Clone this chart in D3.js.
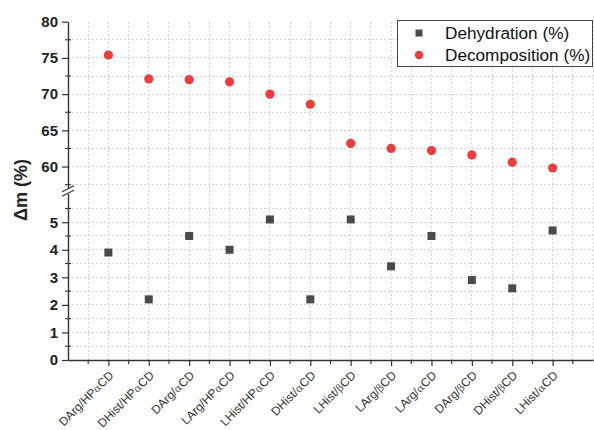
<!DOCTYPE html>
<html>
<head>
<meta charset="utf-8">
<script src="https://cdn.jsdelivr.net/npm/d3@7"></script>
<style>
  html, body { margin: 0; padding: 0; background: #fff; }
  svg { display: block; }
  text { font-family: "Liberation Sans", Arial, sans-serif; }
</style>
</head>
<body>
<svg id="chart" width="594" height="430"></svg>
<script>
// Sample names (prefix, cyclodextrin suffix; α/β drawn in a symbol face)
const samples = [
  ["DArg/HP", "α", "CD"],
  ["DHist/HP", "α", "CD"],
  ["DArg/", "α", "CD"],
  ["LArg/HP", "α", "CD"],
  ["LHist/HP", "α", "CD"],
  ["DHist/", "α", "CD"],
  ["LHist/", "β", "CD"],
  ["LArg/", "β", "CD"],
  ["LArg/", "α", "CD"],
  ["DArg/", "β", "CD"],
  ["DHist/", "β", "CD"],
  ["LHist/", "α", "CD"]
];
const dehydration = [3.9, 2.2, 4.5, 4.0, 5.1, 2.2, 5.1, 3.4, 4.5, 2.9, 2.6, 4.7];
const decomposition = [75.4, 72.1, 72.0, 71.7, 70.0, 68.6, 63.2, 62.5, 62.2, 61.6, 60.6, 59.8];

const upperMajor = [60, 65, 70, 75, 80];
const upperMinor = [57.5, 62.5, 67.5, 72.5, 77.5];
const lowerMajor = [0, 1, 2, 3, 4, 5];
const lowerMinor = [0.5, 1.5, 2.5, 3.5, 4.5, 5.5];

const svg = d3.select("#chart");

// Broken y axis: two linear segments sharing one x scale
const x = d3.scaleLinear().domain([0, 13]).range([68, 593]);
const yUp = d3.scaleLinear().domain([56.9, 80]).range([189, 21.7]);
const yLo = d3.scaleLinear().domain([0, 6.06]).range([360, 193]);

const gridColor = "#d4d4d4";
const grid = svg.append("g").attr("stroke", gridColor).attr("stroke-width", 1)
  .attr("stroke-dasharray", "2,2").attr("shape-rendering", "crispEdges");

// vertical grid every half category
const xGrid = d3.range(1, 27).map(i => i / 2);
grid.selectAll("line.v").data(xGrid).join("line")
  .attr("x1", d => x(d)).attr("x2", d => x(d))
  .attr("y1", yUp(80)).attr("y2", yLo(0));

// horizontal grid
const upGrid = upperMajor.concat(upperMinor).filter(v => v < 80);
grid.selectAll("line.hu").data(upGrid).join("line")
  .attr("x1", x(0)).attr("x2", x(13))
  .attr("y1", d => yUp(d)).attr("y2", d => yUp(d));
const loGrid = lowerMajor.concat(lowerMinor).filter(v => v > 0);
grid.selectAll("line.hl").data(loGrid).join("line")
  .attr("x1", x(0)).attr("x2", x(13))
  .attr("y1", d => yLo(d)).attr("y2", d => yLo(d));

// y axes (two pieces)
const axisColor = "#333";
function yAxisPiece(scale, major, minor, fmt) {
  const g = svg.append("g").attr("transform", `translate(${x(0)},0)`);
  g.call(d3.axisLeft(scale).tickValues(major).tickSize(6).tickSizeOuter(0).tickFormat(fmt).tickPadding(4))
    .call(s => s.select(".domain").attr("stroke", axisColor).attr("stroke-width", 1.4))
    .call(s => s.selectAll(".tick line").attr("stroke", axisColor).attr("stroke-width", 1.2))
    .call(s => s.selectAll(".tick text")
      .attr("font-family", "'Liberation Sans', Arial, sans-serif")
      .attr("font-size", 15).attr("font-weight", "bold").attr("fill", "#222"));
  g.selectAll("line.minor").data(minor).join("line")
    .attr("x1", -3).attr("x2", 3)
    .attr("y1", d => scale(d)).attr("y2", d => scale(d))
    .attr("stroke", axisColor).attr("stroke-width", 1.1);
}
yAxisPiece(yUp, upperMajor, upperMinor, d3.format("d"));
yAxisPiece(yLo, lowerMajor, lowerMinor, d3.format("d"));

// break marks on the y axis
const bx = x(0), by = (yUp.range()[0] + yLo.range()[1]) / 2;
svg.append("rect").attr("x", bx - 2).attr("y", by - 3).attr("width", 4).attr("height", 6).attr("fill", "#fff");
[-2.2, 2.2].forEach(o => {
  svg.append("line")
    .attr("x1", bx - 6).attr("y1", by + o + 3)
    .attr("x2", bx + 6).attr("y2", by + o - 3)
    .attr("stroke", axisColor).attr("stroke-width", 1.2);
});

// x axis
const xAxisG = svg.append("g").attr("transform", `translate(0,${yLo(0)})`);
xAxisG.call(d3.axisBottom(x).tickValues(d3.range(1, 13)).tickSize(6).tickSizeOuter(0).tickFormat(""))
  .call(s => s.select(".domain").attr("stroke", axisColor).attr("stroke-width", 1.4))
  .call(s => s.selectAll(".tick line").attr("stroke", axisColor).attr("stroke-width", 1.2));
xAxisG.selectAll("line.minor").data(d3.range(0, 13).map(i => i + 0.5)).join("line")
  .attr("x1", d => x(d)).attr("x2", d => x(d)).attr("y1", 0).attr("y2", 4)
  .attr("stroke", axisColor).attr("stroke-width", 1.1);

// rotated category labels
const labels = svg.append("g");
samples.forEach((s, i) => {
  const t = labels.append("text")
    .attr("transform", `translate(${x(i + 1) + 6},${yLo(0) + 16}) rotate(-45)`)
    .attr("text-anchor", "end")
    .attr("font-size", 12).attr("fill", "#333");
  t.append("tspan").text(s[0]);
  t.append("tspan").attr("font-family", "'DejaVu Serif', serif").attr("font-size", 10.5).attr("fill", "#555").text(s[1]);
  t.append("tspan").text(s[2]);
});

// y axis title
svg.append("text")
  .attr("transform", `translate(27,190) rotate(-90)`)
  .attr("text-anchor", "middle")
  .attr("font-size", 18).attr("font-weight", "bold").attr("fill", "#222")
  .text("Δm (%)");

// data marks
const sq = 8;
svg.append("g").selectAll("rect").data(dehydration).join("rect")
  .attr("x", (d, i) => x(i + 1) - sq / 2).attr("y", d => yLo(d) - sq / 2)
  .attr("width", sq).attr("height", sq).attr("fill", "#4a4a4a");
svg.append("g").selectAll("circle").data(decomposition).join("circle")
  .attr("cx", (d, i) => x(i + 1)).attr("cy", d => yUp(d))
  .attr("r", 4.6).attr("fill", "#ee3b3b");

// legend
const lg = svg.append("g");
lg.append("rect").attr("x", 397.5).attr("y", 20.5).attr("width", 195).attr("height", 46)
  .attr("fill", "#fff").attr("stroke", "#444").attr("stroke-width", 1);
lg.append("rect").attr("x", 419 - 3.5).attr("y", 33 - 3.5).attr("width", 7).attr("height", 7).attr("fill", "#4a4a4a");
lg.append("circle").attr("cx", 419).attr("cy", 55).attr("r", 4.2).attr("fill", "#ee3b3b");
lg.append("text").attr("x", 445).attr("y", 39).attr("font-size", 17.2).attr("fill", "#111").text("Dehydration (%)");
lg.append("text").attr("x", 445).attr("y", 61).attr("font-size", 17.2).attr("fill", "#111").text("Decomposition (%)");
</script>
</body>
</html>
